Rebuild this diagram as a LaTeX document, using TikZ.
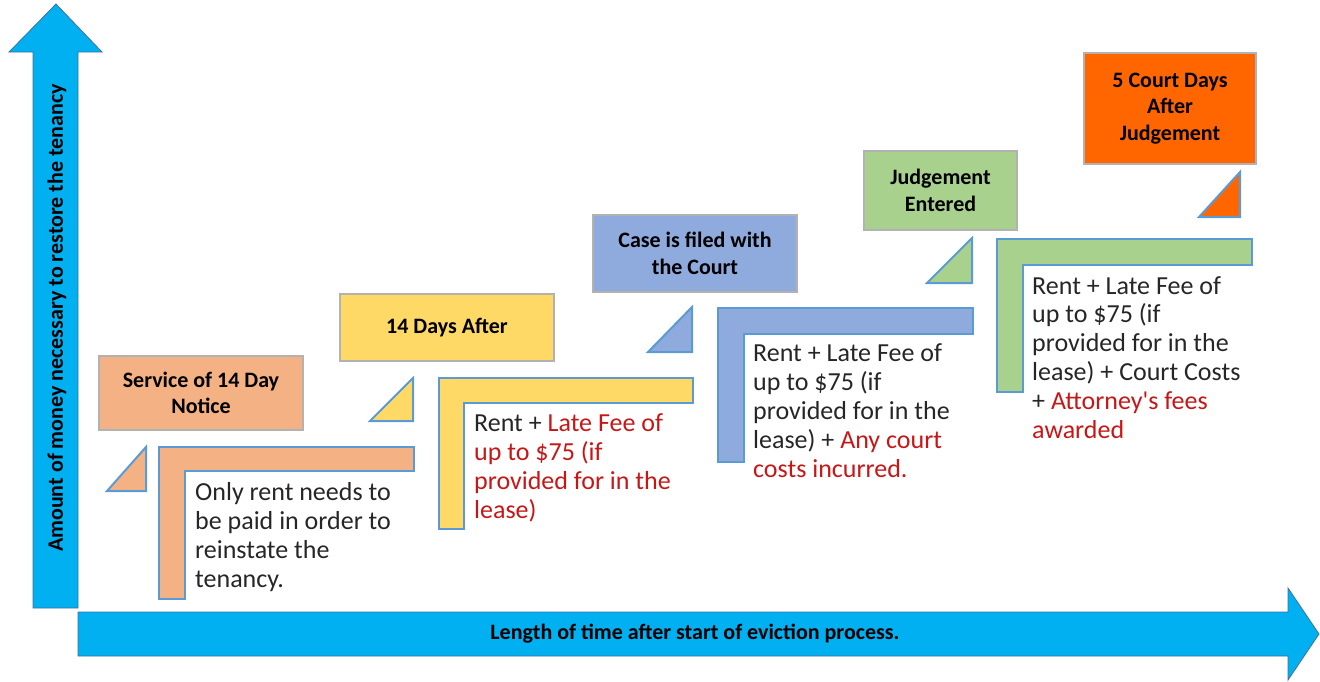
\documentclass[tikz,border=0pt]{standalone}
\usepackage{fontspec}
\setmainfont{Carlito}[Ligatures=TeXOff]
\usetikzlibrary{calc,positioning}
\definecolor{axisblue}{RGB}{0,176,240}
\definecolor{axisedge}{RGB}{65,113,156}
\definecolor{edgeblue}{RGB}{91,155,213}
\definecolor{peach}{RGB}{244,177,131}
\definecolor{sun}{RGB}{255,217,102}
\definecolor{steel}{RGB}{143,170,220}
\definecolor{sage}{RGB}{169,209,142}
\definecolor{flame}{RGB}{255,102,0}
\definecolor{feered}{RGB}{200,22,22}

\begin{document}
\begin{tikzpicture}[x=1pt, y=-1pt,
  stage/.style={draw=black!30, line width=1.5pt, align=center, inner sep=0pt, font=\fontsize{22}{26.5}\selectfont\bfseries},
  elbow/.style={draw=edgeblue, line width=2pt},
  axis/.style={fill=axisblue, draw=axisedge, line width=0.8pt},
  body/.style={anchor=base west, align=left, inner sep=0pt, text=black!85, font=\fontsize{26}{28.8}\selectfont},
  axislabel/.style={font=\fontsize{22}{24}\selectfont\bfseries, inner sep=0pt}]
  \useasboundingbox (0,0) rectangle (1320,681);

  \draw[axis] (33,608) -- (33,52) -- (9,52) -- (56,4) -- (102,52) -- (78,52) -- (78,608) -- cycle;
  \draw[axis] (78,612) -- (1288,612) -- (1288,588) -- (1319,634) -- (1288,680) -- (1288,656) -- (78,656) -- cycle;
  \node[axislabel, rotate=90] (MoneyLabel) at (57,318) {Amount of money necessary to restore the tenancy};
  \node[axislabel] (TimeLabel) at (695,634) {Length of time after start of eviction process.};

  \node[stage, fill=peach, minimum width=204pt, minimum height=74pt] (Notice) at (201,393) {Service of 14 Day\\Notice};
  \node[stage, fill=sun, minimum width=214pt, minimum height=67pt] (After) at (447,327.5) {14 Days After};
  \node[stage, fill=steel, minimum width=204pt, minimum height=77pt] (Filed) at (695,253.5) {Case is filed with\\the Court};
  \node[stage, fill=sage, minimum width=153pt, minimum height=79pt] (Entered) at (940.5,190.5) {Judgement\\Entered};
  \node[stage, fill=flame, minimum width=172pt, minimum height=111pt] (Judged) at (1170,108.5) {5 Court Days\\After\\Judgement};

  \draw[elbow, fill=peach] (107,491) -- (146,491) -- (146,447) -- cycle;
  \draw[elbow, fill=sun] (370,421) -- (413,421) -- (413,378) -- cycle;
  \draw[elbow, fill=steel] (648,352) -- (692,352) -- (692,307) -- cycle;
  \draw[elbow, fill=sage] (927,283) -- (972,283) -- (972,238) -- cycle;
  \draw[elbow, fill=flame] (1199,217) -- (1240,217) -- (1240,172) -- cycle;

  \draw[elbow, fill=peach] (159,447) -- (414,447) -- (414,471) -- (185,471) -- (185,599) -- (159,599) -- cycle;
  \draw[elbow, fill=sun] (439,378) -- (693,378) -- (693,403) -- (464,403) -- (464,529) -- (439,529) -- cycle;
  \draw[elbow, fill=steel] (718,308) -- (973,308) -- (973,334) -- (744,334) -- (744,462) -- (718,462) -- cycle;
  \draw[elbow, fill=sage] (997,239) -- (1252,239) -- (1252,265) -- (1023,265) -- (1023,392) -- (997,392) -- cycle;

  \node[body] (NoticeCost) at (195,587) {Only rent needs to\\be paid in order to\\reinstate the\\tenancy.};
  \node[body] (AfterCost) at (474,518) {Rent + \textcolor{feered}{Late Fee of}\\\textcolor{feered}{up to \$75 (if}\\\textcolor{feered}{provided for in the}\\\textcolor{feered}{lease)}};
  \node[body] (FiledCost) at (753,477) {Rent + Late Fee of\\up to \$75 (if\\provided for in the\\lease) + \textcolor{feered}{Any court}\\\textcolor{feered}{costs incurred.}};
  \node[body] (EnteredCost) at (1032,438) {Rent + Late Fee of\\up to \$75 (if\\provided for in the\\lease) + Court Costs\\+ \textcolor{feered}{Attorney's fees}\\\textcolor{feered}{awarded}};
\end{tikzpicture}
\end{document}
